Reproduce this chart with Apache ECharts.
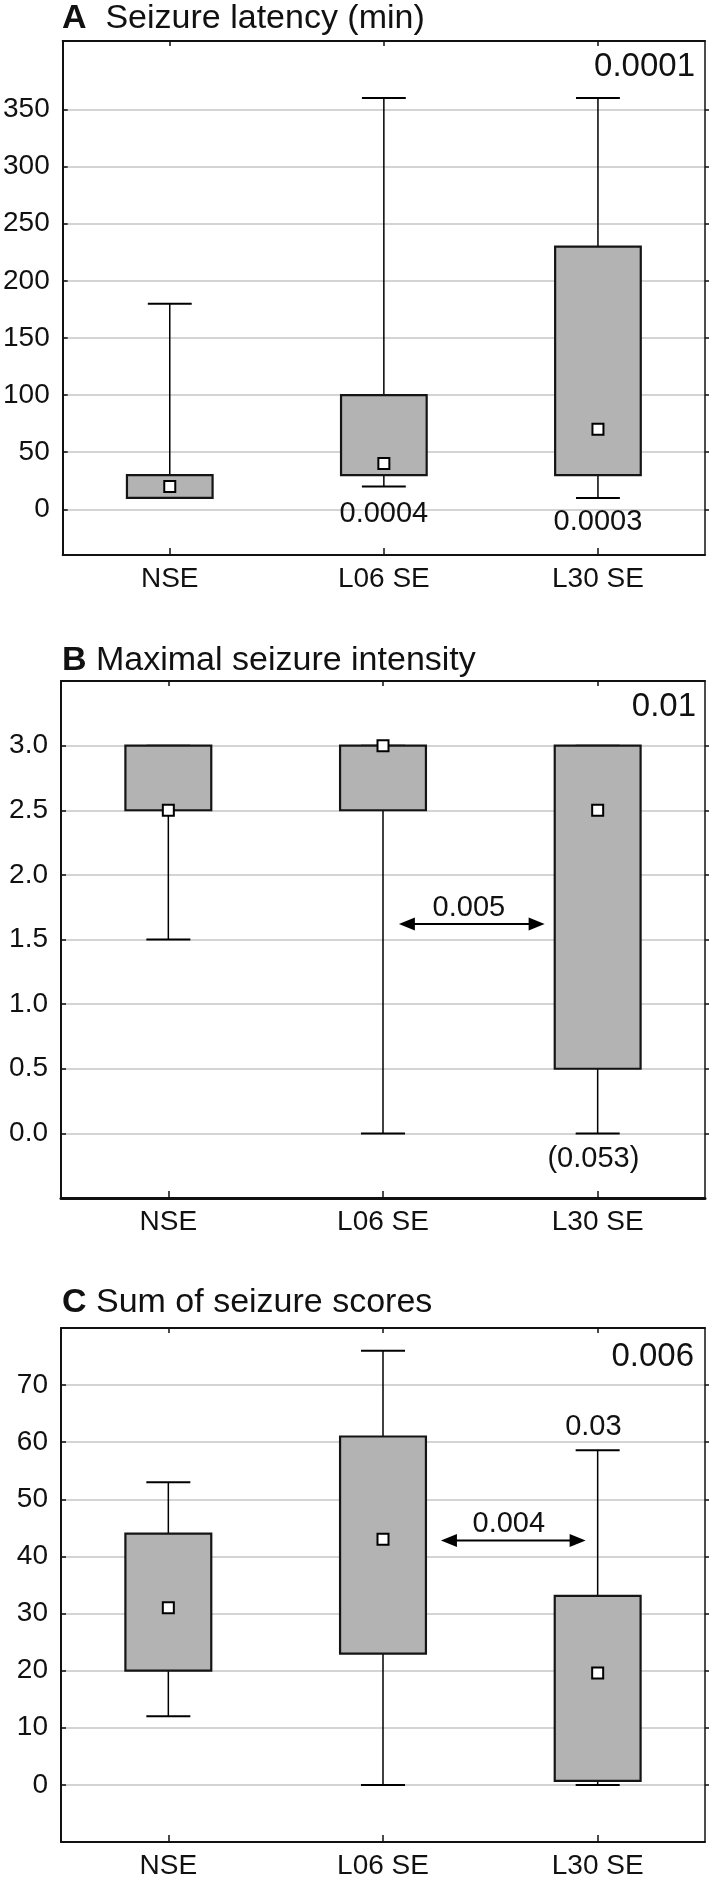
<!DOCTYPE html>
<html>
<head>
<meta charset="utf-8">
<script src="https://cdn.jsdelivr.net/npm/echarts@6/dist/echarts.min.js"></script>
<style>
html,body{margin:0;padding:0;background:#fff;}
#c{width:709px;height:1886px;}
</style>
</head>
<body>
<div id="c"></div>
<script>
// ---------------- DATA ----------------
const categories = ['NSE', 'L06 SE', 'L30 SE'];

// box statistics per group: [min, Q1, median, Q3, max]
const latencyNSE = [10, 10, 20, 30, 180];
const latencyL06 = [20, 30, 40, 100, 360];
const latencyL30 = [10, 30, 70, 230, 360];

const intensityNSE = [1.5, 2.5, 2.5, 3.0, 3.0];
const intensityL06 = [0.0, 2.5, 3.0, 3.0, 3.0];
const intensityL30 = [0.0, 0.5, 2.5, 3.0, 3.0];

const scoreNSE = [12, 20, 31, 44, 53];
const scoreL06 = [0, 23, 43, 61, 76];
const scoreL30 = [0, 0.7, 19.6, 33.1, 58.6];

// tick labels
const latencyTicks = [0, 50, 100, 150, 200, 250, 300, 350];
const intensityTicks = [0, 0.5, 1.0, 1.5, 2.0, 2.5, 3.0];
const scoreTicks = [0, 10, 20, 30, 40, 50, 60, 70];

// p-value texts
const latencyPValues = ['0.0001', '0.0004', '0.0003'];
const intensityPValues = ['0.01', '0.005', '(0.053)'];
const scorePValues = ['0.006', '0.004', '0.03'];

// ---------------- LAYOUT / STYLE ----------------
const FONT = "'Liberation Sans', Arial, Helvetica, sans-serif";
const INK = '#111111';

const panels = [
  {
    letter: 'A', name: '  Seizure latency (min)',
    stats: [latencyNSE, latencyL06, latencyL30],
    ticks: latencyTicks, min: -40, max: 410, fmt: v => String(v),
    top: 41, height: 514, titleTop: 2, bottomWidth: 2,
    corner: latencyPValues[0], cornerTop: 50, cornerRight: 14,
    notes: [ {t: latencyPValues[1], cat: 1, frac: 0, y: -4},
             {t: latencyPValues[2], cat: 2, frac: 0, y: -11} ],
    arrows: []
  },
  {
    letter: 'B', name: ' Maximal seizure intensity',
    stats: [intensityNSE, intensityL06, intensityL30],
    ticks: intensityTicks, min: -0.5, max: 3.5, fmt: v => Number(v).toFixed(1),
    top: 681, height: 517, titleTop: 644, bottomWidth: 3,
    corner: intensityPValues[0], cornerTop: 690, cornerRight: 13,
    notes: [ {t: intensityPValues[1], cat: 1, frac: 0.40, y: 1.745},
             {t: intensityPValues[2], cat: 2, frac: -0.02, y: -0.2} ],
    arrows: [ {y: 1.62, c1: 1, f1: 0.074, c2: 2, f2: -0.247} ]
  },
  {
    letter: 'C', name: ' Sum of seizure scores',
    stats: [scoreNSE, scoreL06, scoreL30],
    ticks: scoreTicks, min: -10, max: 80, fmt: v => String(v),
    top: 1328, height: 514, titleTop: 1286, bottomWidth: 2,
    corner: scorePValues[0], cornerTop: 1340, cornerRight: 15,
    notes: [ {t: scorePValues[1], cat: 1, frac: 0.586, y: 45.7},
             {t: scorePValues[2], cat: 2, frac: -0.02, y: 62.6} ],
    arrows: [ {y: 42.8, c1: 1, f1: 0.27, c2: 2, f2: -0.056} ]
  }
];

const grid = [], xAxis = [], yAxis = [], series = [], title = [];

panels.forEach((p, i) => {
  grid.push({ left: 61, right: 4, top: p.top, height: p.height, containLabel: false });

  title.push({
    text: '{b|' + p.letter + '}' + p.name,
    left: 62, top: p.titleTop, padding: 0,
    textStyle: {
      fontSize: 34, fontWeight: 'normal', color: INK, fontFamily: FONT,
      rich: { b: { fontSize: 34, fontWeight: 'bold', color: INK, fontFamily: FONT } }
    }
  });
  title.push({
    text: p.corner, right: p.cornerRight, top: p.cornerTop, padding: 0,
    textStyle: { fontSize: 33, fontWeight: 'normal', color: INK, fontFamily: FONT }
  });

  // bottom category axis
  xAxis.push({
    type: 'category', gridIndex: i, data: categories, position: 'bottom',
    axisLine: { show: true, onZero: false, lineStyle: { color: INK, width: p.bottomWidth } },
    axisTick: { show: true, inside: true, length: 7, alignWithLabel: true, lineStyle: { color: INK, width: 1.5 } },
    axisLabel: { show: true, margin: 10, fontSize: 28, color: INK, fontFamily: FONT },
    splitLine: { show: false }
  });
  // top frame axis
  xAxis.push({
    type: 'category', gridIndex: i, data: categories, position: 'top',
    axisLine: { show: true, onZero: false, lineStyle: { color: INK, width: 2 } },
    axisTick: { show: true, inside: true, length: 5, alignWithLabel: true, lineStyle: { color: INK, width: 1.5 } },
    axisLabel: { show: false },
    splitLine: { show: false }
  });
  // left value axis
  yAxis.push({
    type: 'value', gridIndex: i, min: p.min, max: p.max, position: 'left',
    axisLine: { show: true, onZero: false, lineStyle: { color: INK, width: 2 } },
    axisTick: { show: true, inside: true, length: 5, customValues: p.ticks, lineStyle: { color: INK, width: 1.5 } },
    axisLabel: { show: true, margin: 13, fontSize: 28, color: INK, fontFamily: FONT,
                 customValues: p.ticks, formatter: p.fmt },
    splitLine: { show: true, lineStyle: { color: '#d4d4d4', width: 2 } }
  });
  // right frame axis
  yAxis.push({
    type: 'value', gridIndex: i, min: p.min, max: p.max, position: 'right',
    axisLine: { show: true, onZero: false, lineStyle: { color: INK, width: 1.5 } },
    axisTick: { show: true, inside: false, length: 4, customValues: p.ticks, lineStyle: { color: INK, width: 1.5 } },
    axisLabel: { show: false },
    splitLine: { show: false }
  });

  const xi = 2 * i, yi = 2 * i;

  // box plots
  series.push({
    type: 'custom', xAxisIndex: xi, yAxisIndex: yi, z: 5, clip: false,
    data: p.stats.map((s, k) => [k, s[0], s[1], s[2], s[3], s[4]]),
    encode: { x: 0, y: [1, 2, 3, 4, 5] },
    renderItem: function (params, api) {
      const cat = api.value(0);
      const band = api.coord([1, 0])[0] - api.coord([0, 0])[0];
      const x = api.coord([cat, api.value(3)])[0];
      const yMin = api.coord([cat, api.value(1)])[1];
      const yQ1 = api.coord([cat, api.value(2)])[1];
      const yMed = api.coord([cat, api.value(3)])[1];
      const yQ3 = api.coord([cat, api.value(4)])[1];
      const yMax = api.coord([cat, api.value(5)])[1];
      const bw = band * 0.4, cw = band * 0.205;
      return {
        type: 'group',
        children: [
          { type: 'line', shape: { x1: x, y1: yMax, x2: x, y2: yMin }, style: { stroke: '#000', lineWidth: 1.5 } },
          { type: 'line', shape: { x1: x - cw / 2, y1: yMax, x2: x + cw / 2, y2: yMax }, style: { stroke: '#000', lineWidth: 2 } },
          { type: 'line', shape: { x1: x - cw / 2, y1: yMin, x2: x + cw / 2, y2: yMin }, style: { stroke: '#000', lineWidth: 2 } },
          { type: 'rect', shape: { x: x - bw / 2, y: yQ3, width: bw, height: yQ1 - yQ3 },
            style: { fill: '#b3b3b3', stroke: '#151515', lineWidth: 2.2 } },
          { type: 'rect', shape: { x: x - 5.5, y: yMed - 5.5, width: 11, height: 11 },
            style: { fill: '#ffffff', stroke: '#000', lineWidth: 2 } }
        ]
      };
    }
  });

  // p-value annotations
  const notes = p.notes;
  series.push({
    type: 'custom', xAxisIndex: xi, yAxisIndex: yi, z: 6, clip: false,
    data: notes.map(n => [n.cat, n.y]),
    encode: { x: 0, y: 1 },
    renderItem: function (params, api) {
      const n = notes[params.dataIndex];
      const band = api.coord([1, 0])[0] - api.coord([0, 0])[0];
      const pt = api.coord([n.cat, n.y]);
      return {
        type: 'text', x: pt[0] + n.frac * band, y: pt[1],
        style: { text: n.t, fontSize: 29, fill: INK, fontFamily: FONT, align: 'center', verticalAlign: 'middle' }
      };
    }
  });

  // double-headed arrows
  const arrows = p.arrows;
  if (arrows.length) {
    series.push({
      type: 'custom', xAxisIndex: xi, yAxisIndex: yi, z: 6, clip: false,
      data: arrows.map(a => [a.c1, a.y]),
      encode: { x: 0, y: 1 },
      renderItem: function (params, api) {
        const a = arrows[params.dataIndex];
        const band = api.coord([1, 0])[0] - api.coord([0, 0])[0];
        const xa = api.coord([a.c1, a.y])[0] + a.f1 * band;
        const xb = api.coord([a.c2, a.y])[0] + a.f2 * band;
        const y = api.coord([a.c1, a.y])[1];
        const L = 16, H = 6.5;
        return {
          type: 'group',
          children: [
            { type: 'line', shape: { x1: xa + L - 2, y1: y, x2: xb - L + 2, y2: y }, style: { stroke: '#000', lineWidth: 2 } },
            { type: 'polygon', shape: { points: [[xa, y], [xa + L, y - H], [xa + L, y + H]] }, style: { fill: '#000' } },
            { type: 'polygon', shape: { points: [[xb, y], [xb - L, y - H], [xb - L, y + H]] }, style: { fill: '#000' } }
          ]
        };
      }
    });
  }
});

const chart = echarts.init(document.getElementById('c'), null, { renderer: 'canvas' });
chart.setOption({
  animation: false,
  backgroundColor: '#ffffff',
  title: title,
  grid: grid,
  xAxis: xAxis,
  yAxis: yAxis,
  series: series
});
</script>
</body>
</html>
